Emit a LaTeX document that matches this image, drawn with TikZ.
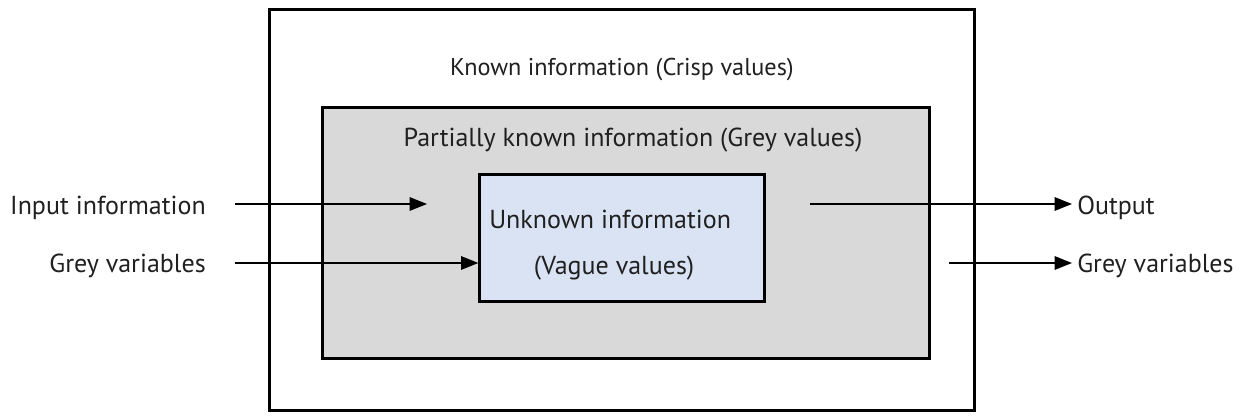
\documentclass[tikz,border=0pt]{standalone}
\usepackage{fontspec}
\setmainfont{PT Sans}
\usetikzlibrary{arrows.meta}
\definecolor{greyfill}{HTML}{D9D9D9}
\definecolor{bluefill}{HTML}{DAE3F3}
\definecolor{ink}{HTML}{202020}
\tikzset{
  box/.style={draw=black, line width=1.6pt, inner sep=0pt},
  lbl/.style={text=ink, font=\fontsize{19.5}{23}\selectfont, inner sep=0pt},
  flow/.style={line width=1.5pt, -{Triangle[length=13pt,width=10pt]}},
}
\begin{document}
\begin{tikzpicture}[x=0.75pt, y=-0.75pt]
  \useasboundingbox (0,0) rectangle (1246,420);
  % nested boxes
  \node[box, fill=white, minimum width=705*0.75pt, minimum height=401*0.75pt] (known) at (622,210) {};
  \node[box, fill=greyfill, minimum width=607*0.75pt, minimum height=251*0.75pt] (partial) at (626,233) {};
  \node[box, fill=bluefill, minimum width=285*0.75pt, minimum height=127*0.75pt] (unknown) at (622,238) {};
  % box titles
  \node[lbl, font=\fontsize{18.2}{21}\selectfont] (knowntxt) at (622,70) {Known information (Crisp values)};
  \node[lbl] (partialtxt) at (633,140) {Partially known information (Grey values)};
  \node[lbl, anchor=west] (unk1) at (489,219) {Unknown information};
  \node[lbl] (unk2) at (614,268) {(Vague values)};
  % side labels
  \node[lbl, anchor=east] (inlbl) at (206,208) {Input information};
  \node[lbl, anchor=east] (greyin) at (206,266) {Grey variables};
  \node[lbl, anchor=west] (outlbl) at (1077,208) {Output};
  \node[lbl, anchor=west] (greyout) at (1077,266) {Grey variables};
  % arrow end points
  \coordinate (inA) at (235,204);
  \coordinate (inB) at (427,204);
  \coordinate (gA) at (235,263);
  \coordinate (outA) at (810,204);
  \coordinate (outB) at (1072,204);
  \coordinate (goA) at (949,263);
  \coordinate (goB) at (1072,263);
  % connectors
  \draw[flow] (inA) -- (inB);
  \draw[flow] (gA) -- (gA -| unknown.west);
  \draw[flow] (outA) -- (outB);
  \draw[flow] (goA) -- (goB);
\end{tikzpicture}
\end{document}
